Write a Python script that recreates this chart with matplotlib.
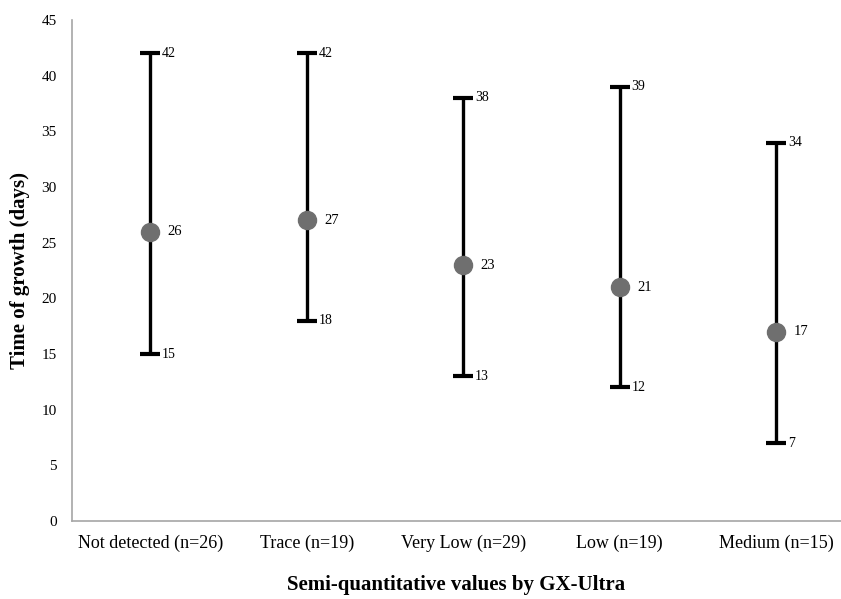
import numpy as np
import matplotlib.pyplot as plt

categories = ['Not detected (n=26)', 'Trace (n=19)', 'Very Low (n=29)', 'Low (n=19)', 'Medium (n=15)']
medians = [26, 27, 23, 21, 17]
lows = [15, 18, 13, 12, 7]
highs = [42, 42, 38, 39, 34]

plt.rcParams['font.family'] = ['Liberation Serif', 'DejaVu Serif']

fig = plt.figure(figsize=(8.41, 5.99), dpi=100)
ax = fig.add_axes([0.0856, 0.130, 0.9144, 0.8366])

x = np.arange(len(categories))
med = np.array(medians)
lo = np.array(lows)
hi = np.array(highs)

ax.errorbar(x, med, yerr=[med - lo, hi - med], fmt='none', ecolor='black',
            elinewidth=2.4, capsize=7, capthick=3, zorder=2)
ax.plot(x, med, 'o', color='#6f6f6f', markersize=13, zorder=3)

for xi, m, l, h in zip(x, medians, lows, highs):
    ax.text(xi + 0.075, h, str(h), fontsize=10, va='center', ha='left')
    ax.text(xi + 0.075, l, str(l), fontsize=10, va='center', ha='left')
    ax.text(xi + 0.11, m, str(m), fontsize=10.5, va='center', ha='left')

ax.set_xlim(-0.5, 4.414)
ax.set_ylim(0, 45)
ax.set_yticks(range(0, 46, 5))
ax.set_xticks(x)
ax.set_xticklabels(categories, fontsize=13)
ax.tick_params(axis='y', length=0, labelsize=11, pad=11)
ax.tick_params(axis='x', length=0, pad=10)

for s in ['top', 'right']:
    ax.spines[s].set_visible(False)
for s in ['left', 'bottom']:
    ax.spines[s].set_color('#a6a6a6')
    ax.spines[s].set_linewidth(1.2)

ax.set_ylabel('Time of growth (days)', fontsize=15, fontweight='bold', labelpad=8)
ax.set_xlabel('Semi-quantitative values by GX-Ultra', fontsize=15, fontweight='bold', labelpad=16)

fig.savefig('out.png', dpi=100)
